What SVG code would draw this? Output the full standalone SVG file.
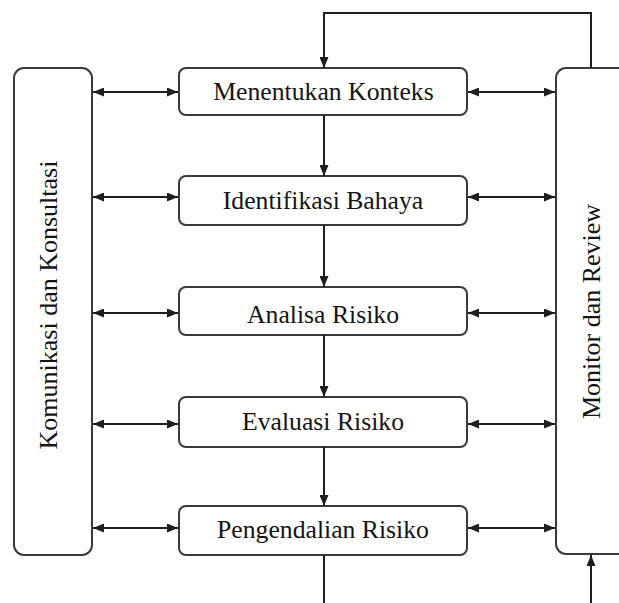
<svg xmlns="http://www.w3.org/2000/svg" width="619" height="603" viewBox="0 0 619 603">
  <style>
    .box { fill: none; stroke: #3a3a3a; stroke-width: 2; }
    .panel { fill: none; stroke: #3a3a3a; stroke-width: 2; }
    .lbl { font-family: "Liberation Serif", "Times New Roman", serif; font-size: 25.7px; fill: #141414; text-anchor: middle; }
    .vlbl { font-family: "Liberation Serif", "Times New Roman", serif; font-size: 26px; fill: #141414; text-anchor: middle; }
    .conn { fill: none; stroke: #1e1e1e; stroke-width: 2; }
    .one { marker-end: url(#ah); }
    .two { marker-start: url(#ah); marker-end: url(#ah); }
  </style>
  <defs>
    <marker id="ah" viewBox="0 0 11 9" refX="11" refY="4.5" markerWidth="11" markerHeight="9" markerUnits="userSpaceOnUse" orient="auto-start-reverse">
      <path d="M0,0 L11,4.5 L0,9 z" fill="#1e1e1e"/>
    </marker>
  </defs>
  <rect width="619" height="603" fill="#ffffff"/>

  <g id="komunikasi">
    <rect class="panel" x="14" y="68" width="78" height="487" rx="10"/>
    <text class="vlbl" transform="translate(57,305) rotate(-90)">Komunikasi dan Konsultasi</text>
  </g>
  <g id="monitor">
    <rect class="panel" x="556" y="68" width="90" height="486" rx="10"/>
    <text class="vlbl" transform="translate(600,311.5) rotate(-90)">Monitor dan Review</text>
  </g>

  <g id="menentukan-konteks">
    <rect class="box" x="179" y="68" width="288" height="47" rx="7"/>
    <text class="lbl" x="323.5" y="99.5">Menentukan Konteks</text>
  </g>
  <g id="identifikasi-bahaya">
    <rect class="box" x="179" y="176" width="288" height="49" rx="7"/>
    <text class="lbl" x="323" y="209">Identifikasi Bahaya</text>
  </g>
  <g id="analisa-risiko">
    <rect class="box" x="179" y="287" width="288" height="48" rx="7"/>
    <text class="lbl" x="323" y="322.5">Analisa Risiko</text>
  </g>
  <g id="evaluasi-risiko">
    <rect class="box" x="179" y="397" width="288" height="50" rx="7"/>
    <text class="lbl" x="323" y="429.5">Evaluasi Risiko</text>
  </g>
  <g id="pengendalian-risiko">
    <rect class="box" x="179" y="506" width="288" height="49" rx="7"/>
    <text class="lbl" x="323" y="538">Pengendalian Risiko</text>
  </g>

  <g id="connectors">
    <path class="conn one" d="M591,68 V13 H324 V68"/>
    <path class="conn one" d="M324,115 V176"/>
    <path class="conn one" d="M324,225 V287"/>
    <path class="conn one" d="M324,335 V397"/>
    <path class="conn one" d="M324,447 V506"/>
    <path class="conn" d="M324,555 V603"/>
    <path class="conn one" d="M591,603 V555"/>

    <path class="conn two" d="M93,92 H178"/>
    <path class="conn two" d="M93,197 H178"/>
    <path class="conn two" d="M93,313 H178"/>
    <path class="conn two" d="M93,424 H178"/>
    <path class="conn two" d="M93,528 H178"/>

    <path class="conn two" d="M468,92 H555"/>
    <path class="conn two" d="M468,197 H555"/>
    <path class="conn two" d="M468,313 H555"/>
    <path class="conn two" d="M468,424 H555"/>
    <path class="conn two" d="M468,528 H555"/>
  </g>
</svg>
